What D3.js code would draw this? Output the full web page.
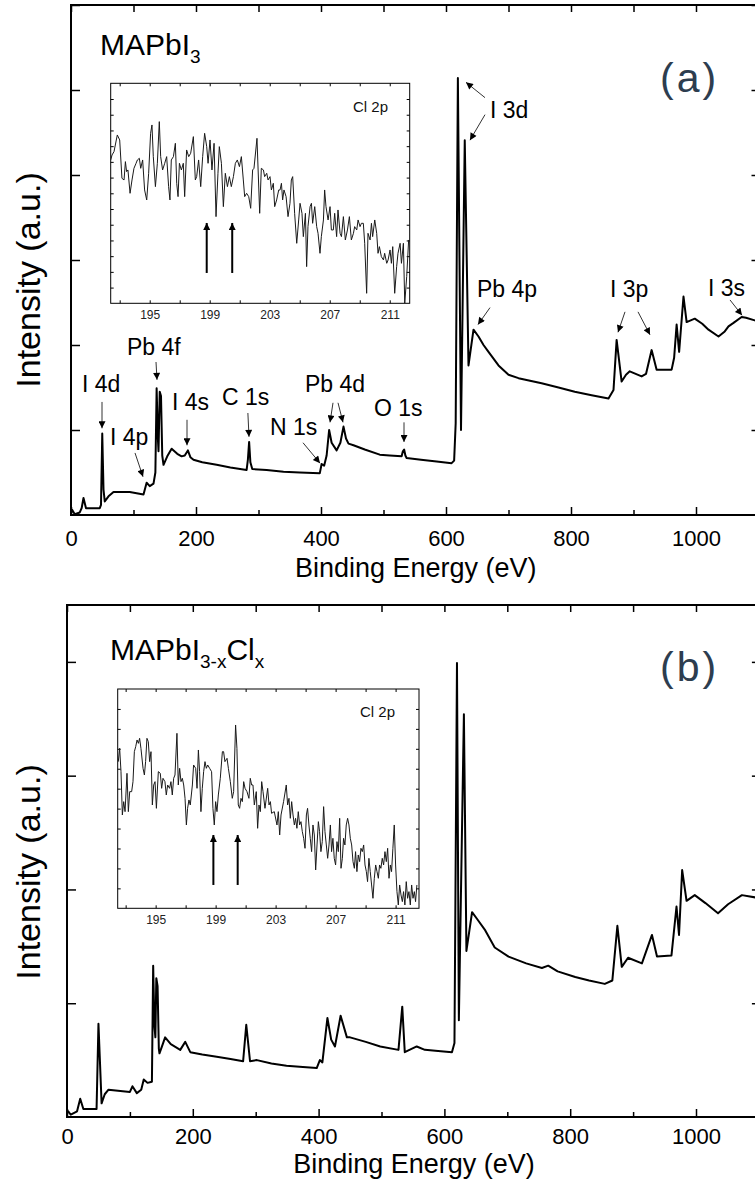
<!DOCTYPE html>
<html>
<head>
<meta charset="utf-8">
<script src="https://cdn.jsdelivr.net/npm/d3@7"></script>
<style>
	body { margin: 0; background: #fff; }
	svg { display: block; font-family: "Liberation Sans", Arial, sans-serif; }
	.frame { fill: none; stroke: #000; stroke-width: 2; }
	.inset-frame { fill: none; stroke: #000; stroke-width: 1; }
	.axis path { display: none; }
	.axis line { stroke: #000; stroke-width: 1.5; }
	.inset-axis line { stroke: #000; stroke-width: 1; }
	.spectrum { fill: none; stroke: #000; stroke-width: 2; stroke-linejoin: round; }
	.cl-line { fill: none; stroke: #1a1a1a; stroke-width: 1; stroke-linejoin: round; }
</style>
</head>
<body>
<script>
// survey spectra, [binding energy (eV), intensity (a.u.)]
var surveyA = [
	[0,0.02],[2,0.06],[6,0.01],[14,0.03],[17,0.08],[20,0.20],[24,0.08],[46,0.08],[48,0.12],[50,0.96],[52,0.30],[54,0.16],
	[60,0.22],[68,0.27],[94,0.27],[116,0.24],[121,0.38],[126,0.34],[132,0.37],[135,0.50],[137,1.49],[139,0.90],[140,0.75],
	[142,1.45],[144,1.40],[146,0.70],[148,0.59],[154,0.69],[161,0.78],[170,0.72],[177,0.69],[182,0.70],[187,0.76],[191,0.68],
	[196,0.65],[210,0.62],[233,0.59],[255,0.56],[281,0.53],[283,0.65],[285,0.86],[287,0.62],[290,0.54],[313,0.53],[340,0.51],
	[366,0.50],[398,0.49],[401,0.60],[405,0.58],[409,0.70],[413,1.00],[417,0.85],[425,0.76],[431,0.85],[436,1.04],[440,0.90],
	[444,0.84],[452,0.82],[470,0.77],[494,0.71],[510,0.70],[529,0.69],[531,0.75],[533,0.77],[535,0.70],[537,0.67],[560,0.65],
	[585,0.63],[609,0.61],[613,0.64],[615.5,1.08],[619,5.14],[624,1.00],[630,4.41],[636,1.76],[644,2.18],[652,2.10],[660,2.00],
	[668,1.92],[684,1.76],[700,1.65],[716,1.61],[740,1.57],[753,1.55],[780,1.50],[806,1.45],[833,1.41],[860,1.37],[868,1.47],
	[873,2.06],[881,1.57],[888,1.65],[894,1.69],[913,1.63],[920,1.66],[929,1.94],[937,1.71],[961,1.71],[965,1.85],[969,2.24],
	[973,1.92],[976,2.20],[980,2.57],[985,2.27],[998,2.31],[1010,2.25],[1020,2.18],[1036,2.10],[1046,2.16],[1052,2.22],
	[1060,2.26],[1073,2.33],[1080,2.32],[1094,2.29],[1100,2.28]
];
var surveyB = [
	[0,0.03],[2,0.05],[6,0.02],[16,0.05],[21,0.16],[26,0.07],[47,0.07],[50,0.82],[55,0.12],[60,0.20],[66,0.24],[100,0.22],
	[104,0.27],[111,0.21],[118,0.24],[122,0.33],[128,0.30],[135,0.31],[137,1.33],[139,0.80],[140.5,0.70],[142,1.22],[144,1.15],
	[146,0.60],[147,0.56],[151,0.62],[156,0.70],[165,0.64],[180,0.59],[188,0.66],[196,0.57],[215,0.55],[238,0.53],[260,0.51],
	[280,0.49],[285,0.81],[291,0.49],[302,0.50],[325,0.47],[349,0.45],[375,0.44],[397,0.43],[402,0.50],[406,0.48],[414,0.87],
	[420,0.68],[426,0.62],[435,0.89],[445,0.70],[450,0.70],[475,0.66],[498,0.62],[527,0.59],[533,0.97],[537,0.57],[556,0.62],
	[569,0.59],[590,0.58],[612,0.57],[616,0.65],[620,3.99],[623,0.85],[631,3.54],[635,1.46],[644,1.80],[652,1.74],[665,1.64],
	[680,1.49],[702,1.41],[730,1.35],[755,1.31],[765,1.33],[780,1.28],[808,1.23],[830,1.20],[855,1.17],[867,1.20],[875,1.68],
	[882,1.32],[892,1.40],[914,1.35],[930,1.60],[938,1.41],[961,1.42],[969,1.85],[973,1.60],[978,2.17],[985,1.90],[998,1.95],
	[1015,1.88],[1035,1.79],[1051,1.87],[1073,1.95],[1094,1.93],[1100,1.92]
];

// Cl 2p window, [binding energy (eV), counts]
var clA = [
	[192.40,430],[192.49,445],[192.62,455],[192.84,505],[193.00,490],[193.15,375],[193.29,370],[193.38,425],[193.46,395],
	[193.55,400],[193.69,330],[193.82,370],[193.95,405],[194.09,420],[194.18,430],[194.31,435],[194.40,405],[194.53,430],
	[194.66,340],[194.80,310],[194.93,390],[195.06,510],[195.15,535],[195.24,440],[195.38,350],[195.51,420],[195.64,545],
	[195.73,440],[195.86,400],[196.00,420],[196.13,440],[196.26,350],[196.35,310],[196.44,430],[196.58,440],[196.71,480],
	[196.80,360],[196.89,320],[196.98,420],[197.11,400],[197.24,420],[197.33,320],[197.46,460],[197.60,440],[197.73,450],
	[197.91,500],[198.04,370],[198.13,380],[198.26,430],[198.40,350],[198.53,440],[198.66,510],[198.80,470],[198.89,420],
	[199.02,490],[199.15,400],[199.29,480],[199.42,260],[199.55,390],[199.64,470],[199.78,420],[199.91,290],[200.04,390],
	[200.18,350],[200.31,380],[200.44,350],[200.58,380],[200.71,420],[200.84,430],[200.98,410],[201.11,440],[201.24,370],
	[201.33,320],[201.46,330],[201.60,320],[201.73,285],[201.86,400],[201.95,405],[202.15,495],[202.33,270],[202.44,405],
	[202.58,400],[202.66,380],[202.80,390],[202.89,370],[203.02,380],[203.11,340],[203.24,360],[203.33,290],[203.46,310],
	[203.60,340],[203.69,340],[203.78,360],[203.86,310],[203.95,340],[204.09,320],[204.22,260],[204.35,300],[204.44,370],
	[204.53,380],[204.66,270],[204.80,180],[204.93,250],[205.02,300],[205.15,270],[205.24,200],[205.38,270],[205.46,110],
	[205.55,230],[205.69,290],[205.78,300],[205.86,240],[206.00,290],[206.13,230],[206.22,210],[206.35,150],[206.44,200],
	[206.58,250],[206.66,340],[206.75,290],[206.89,250],[207.02,290],[207.11,220],[207.24,220],[207.33,270],[207.46,200],
	[207.55,280],[207.69,210],[207.78,200],[207.91,260],[208.04,190],[208.18,220],[208.31,260],[208.44,190],[208.58,210],
	[208.66,230],[208.80,220],[208.89,250],[209.02,230],[209.11,240],[209.24,240],[209.33,180],[209.46,30],[209.55,210],
	[209.69,190],[209.78,240],[209.86,200],[210.00,250],[210.13,210],[210.22,150],[210.31,170],[210.44,140],[210.58,130],
	[210.66,150],[210.80,120],[210.89,130],[211.02,160],[211.11,120],[211.20,170],[211.33,30],[211.46,110],[211.55,150],
	[211.69,180],[211.78,120],[211.91,180],[212.00,0],[212.13,80],[212.26,190]
];
var clB = [
	[192.51,440],[192.60,480],[192.69,410],[192.78,280],[192.87,320],[192.96,290],[193.09,405],[193.18,290],[193.27,350],
	[193.40,350],[193.49,380],[193.58,470],[193.67,485],[193.76,505],[193.85,495],[193.93,510],[194.02,480],[194.16,420],
	[194.25,400],[194.33,440],[194.42,510],[194.51,500],[194.60,440],[194.69,470],[194.78,310],[194.87,370],[194.96,380],
	[195.05,300],[195.18,410],[195.31,405],[195.40,360],[195.49,390],[195.62,380],[195.71,340],[195.80,370],[195.93,360],
	[196.02,380],[196.11,340],[196.20,390],[196.29,400],[196.42,525],[196.51,370],[196.60,420],[196.69,380],[196.78,390],
	[196.87,370],[196.96,330],[197.05,250],[197.13,300],[197.22,325],[197.31,310],[197.45,370],[197.53,430],[197.67,420],
	[197.76,360],[197.85,475],[197.93,410],[198.02,290],[198.11,360],[198.20,410],[198.29,440],[198.38,420],[198.47,430],
	[198.60,420],[198.73,410],[198.82,300],[198.91,250],[199.00,320],[199.09,290],[199.18,340],[199.31,390],[199.45,470],
	[199.53,470],[199.62,440],[199.76,450],[199.85,420],[199.98,380],[200.11,330],[200.20,350],[200.33,550],[200.42,480],
	[200.51,310],[200.60,300],[200.69,330],[200.78,320],[200.87,380],[200.96,360],[201.09,350],[201.22,330],[201.31,390],
	[201.40,370],[201.49,370],[201.58,310],[201.71,350],[201.80,240],[201.89,310],[201.98,290],[202.07,380],[202.16,350],
	[202.29,300],[202.47,360],[202.56,310],[202.65,320],[202.73,285],[202.91,290],[203.09,250],[203.18,290],[203.27,220],
	[203.36,280],[203.53,320],[203.71,370],[203.80,310],[203.89,330],[203.98,270],[204.07,320],[204.16,280],[204.25,250],
	[204.33,270],[204.42,240],[204.51,290],[204.60,250],[204.69,260],[204.78,230],[204.87,210],[204.96,180],[205.05,280],
	[205.13,300],[205.22,250],[205.31,210],[205.40,170],[205.49,250],[205.58,220],[205.67,115],[205.76,190],[205.85,260],
	[205.93,230],[206.02,170],[206.11,200],[206.20,305],[206.29,230],[206.38,190],[206.47,150],[206.56,190],[206.65,250],
	[206.73,170],[206.82,210],[206.91,150],[207.00,130],[207.09,200],[207.18,170],[207.27,270],[207.36,120],[207.45,150],
	[207.53,210],[207.62,190],[207.71,250],[207.80,270],[207.89,250],[207.98,210],[208.07,190],[208.16,140],[208.25,120],
	[208.33,170],[208.42,110],[208.51,160],[208.60,140],[208.69,180],[208.78,170],[208.87,190],[208.96,130],[209.05,110],
	[209.13,80],[209.22,150],[209.31,110],[209.40,70],[209.49,30],[209.58,90],[209.67,130],[209.76,110],[209.85,90],
	[209.93,130],[210.02,120],[210.11,150],[210.20,130],[210.29,170],[210.38,140],[210.47,180],[210.56,90],[210.65,130],
	[210.73,110],[210.82,180],[210.91,250],[211.00,130],[211.09,50],[211.18,10],[211.27,70],[211.36,40],[211.45,20],
	[211.53,50],[211.62,10],[211.71,80],[211.80,30],[211.89,50],[211.98,10],[212.07,70],[212.16,30],[212.25,50],[212.33,20],
	[212.42,70]
];

var mainTicks = [0, 200, 400, 600, 800, 1000];
var mainMinorTicks = [100, 300, 500, 700, 900, 1100];
var insetTickLabels = [195, 199, 203, 207, 211];
var insetTicks = [193, 195, 197, 199, 201, 203, 205, 207, 209, 211];
var clArrowsA = [198.8, 200.5];   // Cl 2p3/2, Cl 2p1/2
var clArrowsB = [198.85, 200.47];

// peak assignments on panel (a): label anchor and arrows, in data space
var peakLabels = [
	{ text: "I 4d", at: [17.6, 1.45], arrows: [[[49.6, 1.33], [49.6, 1.02]]] },
	{ text: "I 4p", at: [62.4, 0.82], arrows: [[[102.4, 0.73], [115.2, 0.45]]] },
	{ text: "Pb 4f", at: [89.6, 1.88], arrows: [[[136, 1.80], [137.6, 1.59]]] },
	{ text: "I 4s", at: [161.6, 1.24], arrows: [[[185.6, 1.12], [185.6, 0.82]]] },
	{ text: "C 1s", at: [241.6, 1.29], arrows: [[[283, 1.20], [284.8, 0.92]]] },
	{ text: "N 1s", at: [318.4, 0.94], arrows: [[[371.2, 0.85], [398.4, 0.61]]] },
	{ text: "Pb 4d", at: [374.4, 1.45], arrows: [[[419.2, 1.32], [414.4, 1.09]], [[427.2, 1.32], [435.2, 1.09]]] },
	{ text: "O 1s", at: [484.8, 1.16], arrows: [[[532.8, 1.09], [532.8, 0.86]]] },
	{ text: "I 3d", at: [670.4, 4.67], arrows: [[[662.4, 4.91], [632, 5.09]], [[662.4, 4.71], [638.4, 4.41]]] },
	{ text: "Pb 4p", at: [649.6, 2.56], arrows: [[[670.4, 2.44], [651.2, 2.24]]] },
	{ text: "I 3p", at: [862.4, 2.56], arrows: [[[886.4, 2.39], [875.2, 2.15]], [[907.2, 2.39], [926.4, 2.12]]] },
	{ text: "I 3s", at: [1019.2, 2.58], arrows: [[[1054.4, 2.53], [1073.6, 2.35]]] }
];

var svg = d3.select('body').append('svg')
	.attr('width', 755)
	.attr('height', 1183);

var defs = svg.append('defs');
defs.append('marker')
	.attr('id', 'head')
	.attr('viewBox', '0 0 10 10')
	.attr('refX', 10).attr('refY', 5)
	.attr('markerWidth', 10).attr('markerHeight', 7)
	.attr('markerUnits', 'userSpaceOnUse')
	.attr('orient', 'auto')
	.append('path').attr('d', 'M0,0L10,5L0,10Z').attr('fill', '#000');
defs.append('marker')
	.attr('id', 'bighead')
	.attr('viewBox', '0 0 10 10')
	.attr('refX', 10).attr('refY', 5)
	.attr('markerWidth', 12).attr('markerHeight', 7)
	.attr('markerUnits', 'userSpaceOnUse')
	.attr('orient', 'auto')
	.append('path').attr('d', 'M0,0L10,5L0,10Z').attr('fill', '#000');

function drawPanel(p) {
	var x = d3.scaleLinear().domain([0, 1100]).range([p.left, p.right]);
	var y = d3.scaleLinear().domain([0, p.ymax]).range([p.bottom, p.top]);
	var g = svg.append('g');

	// ticks point inward on all four sides
	g.append('g').attr('class', 'axis')
		.attr('transform', 'translate(0,' + p.bottom + ')')
		.call(d3.axisBottom(x).tickValues(mainTicks).tickSize(-8).tickPadding(p.labelPad).tickFormat(d3.format('d')))
		.selectAll('text').attr('font-size', 22).attr('fill', '#000')
		.attr('font-family', '"Liberation Sans", Arial, sans-serif');
	g.append('g').attr('class', 'axis')
		.attr('transform', 'translate(0,' + p.bottom + ')')
		.call(d3.axisBottom(x).tickValues(mainMinorTicks).tickSize(-5).tickFormat(''));
	g.append('g').attr('class', 'axis')
		.attr('transform', 'translate(0,' + p.top + ')')
		.call(d3.axisTop(x).tickValues(mainTicks.concat(mainMinorTicks)).tickSize(-7).tickFormat(''));
	g.append('g').attr('class', 'axis')
		.attr('transform', 'translate(' + p.left + ',0)')
		.call(d3.axisLeft(y).tickValues(d3.range(1, Math.floor(p.ymax) + 1)).tickSize(-9).tickFormat(''));
	g.append('g').attr('class', 'axis')
		.attr('transform', 'translate(' + p.right + ',0)')
		.call(d3.axisRight(y).tickValues(d3.range(1, Math.floor(p.ymax) + 1)).tickSize(-7).tickFormat(''));

	g.append('rect').attr('class', 'frame')
		.attr('x', p.left).attr('y', p.top)
		.attr('width', p.right - p.left).attr('height', p.bottom - p.top);

	var line = d3.line()
		.x(function (d) { return x(d[0]); })
		.y(function (d) { return y(d[1]); });
	g.append('path').attr('class', 'spectrum').attr('d', line(p.data));

	// axis titles
	g.append('text')
		.attr('x', (p.left + p.right) / 2 + 1)
		.attr('y', p.bottom + p.titlePad)
		.attr('text-anchor', 'middle')
		.attr('font-size', 27)
		.text('Binding Energy (eV)');
	g.append('text')
		.attr('transform', 'translate(40,' + p.ylabelY + ') rotate(-90)')
		.attr('text-anchor', 'middle')
		.attr('font-size', 34)
		.text('Intensity (a.u.)');

	// sample name with subscripts
	var name = g.append('text')
		.attr('x', p.left + p.nameDx)
		.attr('y', p.top + p.nameDy)
		.attr('font-size', 30);
	p.name.forEach(function (part) {
		name.append('tspan')
			.attr('font-size', part.sub ? 19 : 30)
			.attr('dy', part.sub ? 8 : (part.back ? -8 : 0))
			.text(part.t);
	});

	g.append('text')
		.attr('x', 660)
		.attr('y', p.top + p.tagDy)
		.attr('font-size', 41)
		.attr('letter-spacing', 3)
		.attr('fill', '#2d3d4f')
		.text(p.tag);

	return { x: x, y: y, g: g };
}

function drawInset(p) {
	var x = d3.scaleLinear().domain(p.xdomain).range([p.left, p.right]);
	var y = d3.scaleLinear().domain([0, p.ymax]).range([p.bottom, p.top]);
	var g = svg.append('g');
	var yt = d3.range(1, p.ny).map(function (i) { return i * p.ymax / p.ny; });

	g.append('rect').attr('fill', '#fff')
		.attr('x', p.left).attr('y', p.top)
		.attr('width', p.right - p.left).attr('height', p.bottom - p.top);

	g.append('g').attr('class', 'axis inset-axis')
		.attr('transform', 'translate(0,' + p.bottom + ')')
		.call(d3.axisBottom(x).tickValues(insetTicks).tickSize(-3).tickPadding(7)
			.tickFormat(function (d) { return insetTickLabels.indexOf(d) >= 0 ? d : ''; }))
		.selectAll('text').attr('font-size', 12).attr('fill', '#222')
		.attr('font-family', '"Liberation Sans", Arial, sans-serif');
	g.append('g').attr('class', 'axis inset-axis')
		.attr('transform', 'translate(0,' + p.top + ')')
		.call(d3.axisTop(x).tickValues(insetTicks).tickSize(-3).tickFormat(''));
	g.append('g').attr('class', 'axis inset-axis')
		.attr('transform', 'translate(' + p.left + ',0)')
		.call(d3.axisLeft(y).tickValues(yt).tickSize(-3).tickFormat(''));
	g.append('g').attr('class', 'axis inset-axis')
		.attr('transform', 'translate(' + p.right + ',0)')
		.call(d3.axisRight(y).tickValues(yt).tickSize(-3).tickFormat(''));

	var clipId = 'clip-' + p.id;
	defs.append('clipPath').attr('id', clipId)
		.append('rect')
		.attr('x', p.left).attr('y', p.top)
		.attr('width', p.right - p.left).attr('height', p.bottom - p.top);

	var line = d3.line()
		.x(function (d) { return x(d[0]); })
		.y(function (d) { return y(d[1]); });
	g.append('path').attr('class', 'cl-line')
		.attr('clip-path', 'url(#' + clipId + ')')
		.attr('d', line(p.data));

	g.selectAll('.cl-arrow')
		.data(p.arrows)
		.enter().append('line')
		.attr('class', 'cl-arrow')
		.attr('x1', function (d) { return x(d); })
		.attr('x2', function (d) { return x(d); })
		.attr('y1', y(p.arrowFrom))
		.attr('y2', y(p.arrowTo))
		.attr('stroke', '#000')
		.attr('stroke-width', 2)
		.attr('marker-end', 'url(#bighead)');

	g.append('rect').attr('class', 'inset-frame')
		.attr('x', p.left).attr('y', p.top)
		.attr('width', p.right - p.left).attr('height', p.bottom - p.top);

	g.append('text')
		.attr('x', p.labelX)
		.attr('y', p.top + p.labelDy)
		.attr('font-size', 15)
		.attr('fill', '#111')
		.text('Cl 2p');
}

var panelA = drawPanel({
	left: 71, right: 758.5, top: 5, bottom: 515, ymax: 6,
	data: surveyA, labelPad: 15, titlePad: 62, ylabelY: 280,
	nameDx: 29, nameDy: 50, tagDy: 87, tag: '(a)',
	name: [{ t: 'MAPbI' }, { t: '3', sub: true }]
});

// peak labels and arrows, panel (a)
peakLabels.forEach(function (pk) {
	panelA.g.append('text')
		.attr('x', panelA.x(pk.at[0]))
		.attr('y', panelA.y(pk.at[1]))
		.attr('font-size', 23)
		.text(pk.text);
	pk.arrows.forEach(function (a) {
		panelA.g.append('line')
			.attr('x1', panelA.x(a[0][0])).attr('y1', panelA.y(a[0][1]))
			.attr('x2', panelA.x(a[1][0])).attr('y2', panelA.y(a[1][1]))
			.attr('stroke', '#333')
			.attr('stroke-width', 1)
			.attr('marker-end', 'url(#head)');
	});
});

drawPanel({
	left: 67, right: 758.9, top: 605, bottom: 1117, ymax: 4.5,
	data: surveyB, labelPad: 11, titlePad: 56, ylabelY: 872,
	nameDx: 43, nameDy: 55, tagDy: 76, tag: '(b)',
	name: [{ t: 'MAPbI' }, { t: '3-x', sub: true }, { t: 'Cl', back: true }, { t: 'x', sub: true }]
});

drawInset({
	id: 'a', left: 110.7, right: 409.7, top: 83.3, bottom: 303.3,
	xdomain: [192.4, 212.33], ymax: 660, ny: 14,
	data: clA, arrows: clArrowsA, arrowFrom: 91, arrowTo: 241, labelX: 353, labelDy: 29
});
drawInset({
	id: 'b', left: 117.7, right: 419, top: 689, bottom: 908.3,
	xdomain: [192.47, 212.56], ymax: 658, ny: 11,
	data: clB, arrows: clArrowsB, arrowFrom: 70, arrowTo: 220, labelX: 360, labelDy: 28
});
</script>
</body>
</html>
